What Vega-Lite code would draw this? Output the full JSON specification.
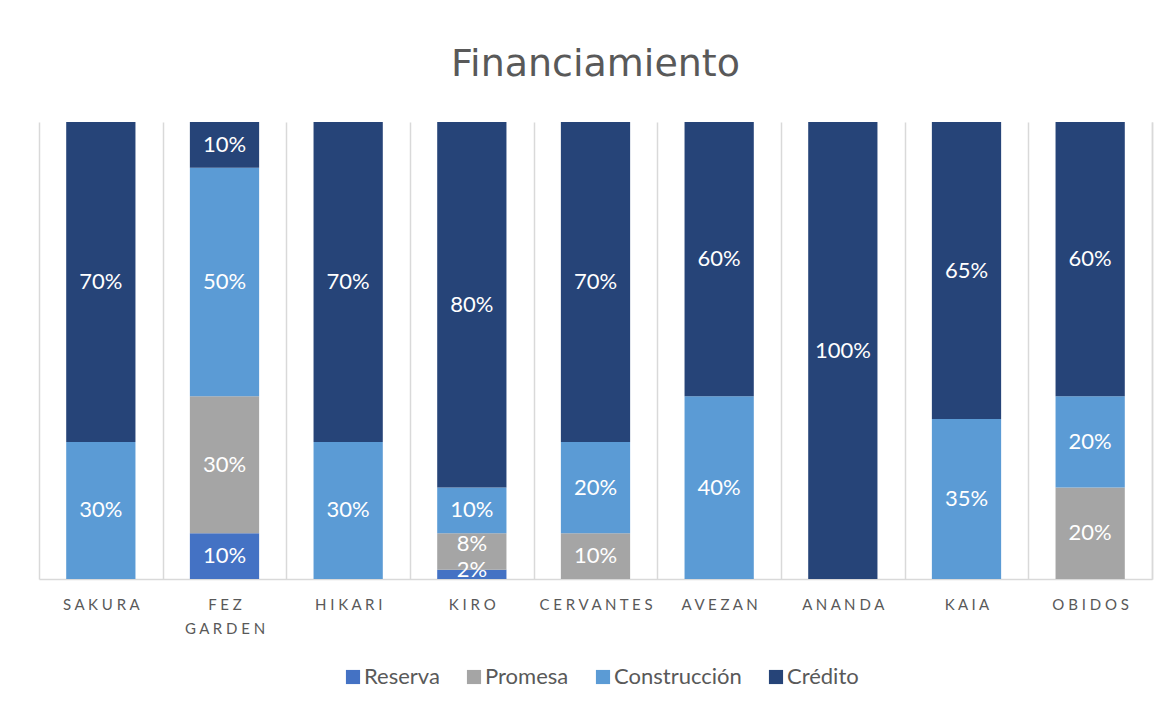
{
  "$schema": "https://vega.github.io/schema/vega-lite/v6.json",
  "width": 1113,
  "height": 457,
  "autosize": "none",
  "padding": {"left": 39, "top": 122, "right": 18, "bottom": 128},
  "background": "white",
  "config": {"view": {"stroke": null}},
  "title": {"text": "Financiamiento", "fontSize": 38, "font": "DejaVu Sans", "fontWeight": "normal", "color": "#595959", "anchor": "middle", "offset": 38},
  "data": {"values": [
    {"proyecto": "SAKURA", "serie": "Construcción", "valor": 0.30},
    {"proyecto": "SAKURA", "serie": "Crédito", "valor": 0.70},
    {"proyecto": "FEZ GARDEN", "serie": "Reserva", "valor": 0.10},
    {"proyecto": "FEZ GARDEN", "serie": "Promesa", "valor": 0.30},
    {"proyecto": "FEZ GARDEN", "serie": "Construcción", "valor": 0.50},
    {"proyecto": "FEZ GARDEN", "serie": "Crédito", "valor": 0.10},
    {"proyecto": "HIKARI", "serie": "Construcción", "valor": 0.30},
    {"proyecto": "HIKARI", "serie": "Crédito", "valor": 0.70},
    {"proyecto": "KIRO", "serie": "Reserva", "valor": 0.02},
    {"proyecto": "KIRO", "serie": "Promesa", "valor": 0.08},
    {"proyecto": "KIRO", "serie": "Construcción", "valor": 0.10},
    {"proyecto": "KIRO", "serie": "Crédito", "valor": 0.80},
    {"proyecto": "CERVANTES", "serie": "Promesa", "valor": 0.10},
    {"proyecto": "CERVANTES", "serie": "Construcción", "valor": 0.20},
    {"proyecto": "CERVANTES", "serie": "Crédito", "valor": 0.70},
    {"proyecto": "AVEZAN", "serie": "Construcción", "valor": 0.40},
    {"proyecto": "AVEZAN", "serie": "Crédito", "valor": 0.60},
    {"proyecto": "ANANDA", "serie": "Crédito", "valor": 1.00},
    {"proyecto": "KAIA", "serie": "Construcción", "valor": 0.35},
    {"proyecto": "KAIA", "serie": "Crédito", "valor": 0.65},
    {"proyecto": "OBIDOS", "serie": "Promesa", "valor": 0.20},
    {"proyecto": "OBIDOS", "serie": "Construcción", "valor": 0.20},
    {"proyecto": "OBIDOS", "serie": "Crédito", "valor": 0.60}
  ]},
  "transform": [
    {"calculate": "indexof(['Reserva', 'Promesa', 'Construcción', 'Crédito'], datum.serie)", "as": "orden"}
  ],
  "encoding": {
    "x": {
      "field": "proyecto", "type": "nominal", "sort": null,
      "scale": {"paddingInner": 0, "paddingOuter": 0},
      "axis": {
        "title": null, "labelAngle": 0, "labelFont": "Lato", "labelFontSize": 15, "labelColor": "#595959",
        "labelPadding": 18, "labelLineHeight": 24, "ticks": false, "domainColor": "#d9d9d9", "domainWidth": 1.5,
        "grid": true, "gridColor": "#d9d9d9", "gridWidth": 1.5, "tickBand": "extent",
        "labelExpr": "length(split(datum.label, ' ')) > 1 ? [replace(split(datum.label, ' ')[0], regexp('(.)(?=.)', 'g'), '$1 '), replace(split(datum.label, ' ')[1], regexp('(.)(?=.)', 'g'), '$1 ')] : replace(datum.label, regexp('(.)(?=.)', 'g'), '$1 ')"
      }
    },
    "y": {
      "field": "valor", "type": "quantitative", "stack": "zero",
      "scale": {"domain": [0, 1], "nice": false},
      "axis": {"orient": "right", "labels": false, "ticks": false, "grid": false, "domain": true, "domainColor": "#d9d9d9", "domainWidth": 1.5, "title": null}
    },
    "order": {"field": "orden", "type": "quantitative", "sort": "ascending"},
    "color": {
      "field": "serie", "type": "nominal",
      "scale": {"domain": ["Reserva", "Promesa", "Construcción", "Crédito"], "range": ["#4472C4", "#A5A5A5", "#5B9BD5", "#264478"]},
      "legend": {
        "title": null, "orient": "none", "direction": "horizontal", "legendX": 303, "legendY": 544,
        "symbolType": "square", "symbolSize": 200, "symbolStrokeWidth": 0, "symbolOpacity": 1,
        "labelFont": "Lato", "labelFontSize": 22, "labelColor": "#595959", "labelOffset": 0, "columnPadding": 23
      }
    }
  },
  "layer": [
    {"mark": {"type": "bar", "width": {"band": 0.56}}},
    {
      "mark": {"type": "text", "font": "Lato", "fontSize": 22, "dy": {"expr": "datum.valor < 0.05 ? -4 : (datum.valor < 0.09 ? -8 : 0)"}},
      "encoding": {
        "y": {"field": "valor", "type": "quantitative", "stack": "zero", "bandPosition": 0.5},
        "text": {"field": "valor", "type": "quantitative", "format": ".0%"},
        "fill": {"value": "white"}
      }
    }
  ]
}
